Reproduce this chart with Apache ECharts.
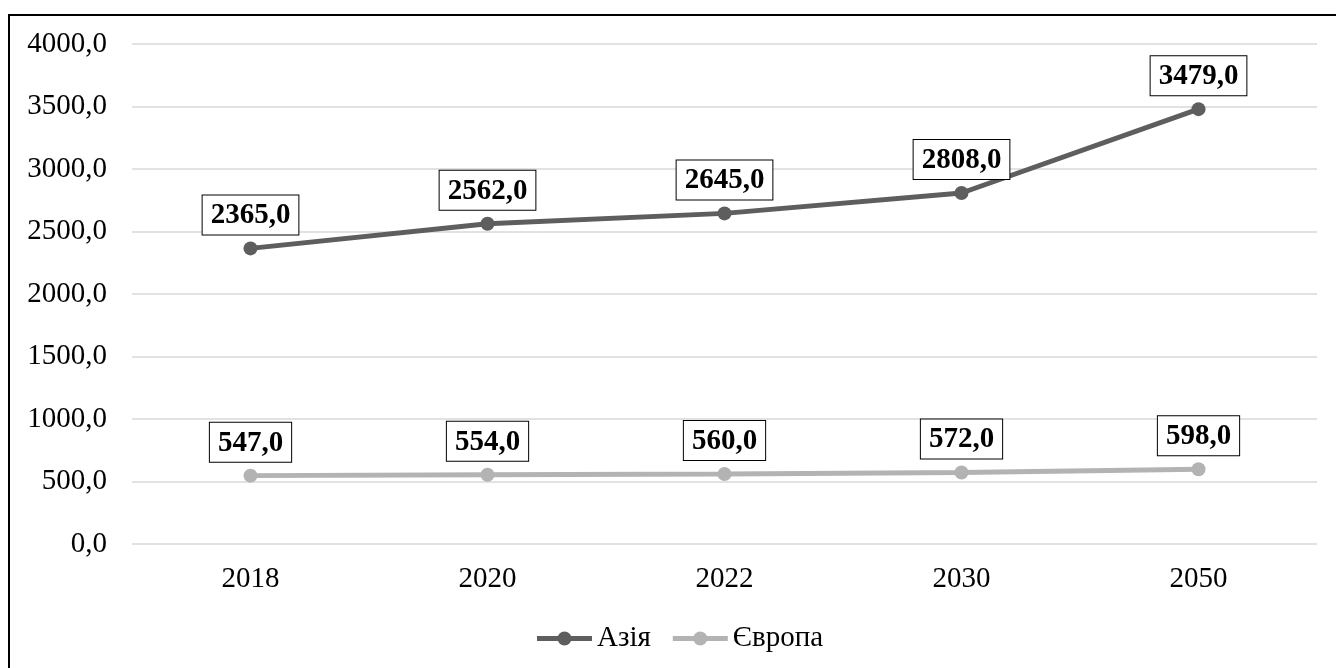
<!DOCTYPE html>
<html>
<head>
<meta charset="utf-8">
<script src="https://cdn.jsdelivr.net/npm/echarts@6/dist/echarts.min.js"></script>
<style>
html,body{margin:0;padding:0;background:#fff;}
#chart{width:1336px;height:668px;}
</style>
</head>
<body>
<div id="chart"></div>
<script>
const categories = ['2018', '2020', '2022', '2030', '2050'];
const asiaValues = [2365, 2562, 2645, 2808, 3479];
const europeValues = [547, 554, 560, 572, 598];
const seriesNames = ['Азія', 'Європа'];

const FONT = '"Liberation Serif", "Times New Roman", serif';
const fmt = v => Number(v).toFixed(1).replace('.', ',');
const legendIcon = 'path://M0,4.5 L55,4.5 L55,9.5 L0,9.5 Z M20.5,7 A7,7 0 1,1 34.5,7 A7,7 0 1,1 20.5,7 Z';

const labelStyle = {
  show: true,
  position: 'top',
  distance: 7,
  fontFamily: FONT,
  fontSize: 29,
  fontWeight: 'bold',
  color: '#000',
  backgroundColor: '#fff',
  borderColor: '#000',
  borderWidth: 1,
  padding: [5, 8, 3, 8],
  lineHeight: 31,
  formatter: p => fmt(p.value)
};

const chart = echarts.init(document.getElementById('chart'), null, {renderer: 'canvas'});
chart.setOption({
  animation: false,
  backgroundColor: '#fff',
  graphic: [{
    type: 'rect',
    shape: {x: 9, y: 15, width: 1400, height: 700},
    style: {fill: 'none', stroke: '#000', lineWidth: 2},
    z: 100
  }],
  grid: {left: 132, right: 19, top: 44, bottom: 124},
  legend: {
    data: seriesNames.map(n => ({name: n, icon: legendIcon})),
    bottom: 10,
    left: 532,
    itemWidth: 55,
    itemHeight: 14,
    itemGap: 22,
    textStyle: {fontFamily: FONT, fontSize: 29, color: '#000'}
  },
  xAxis: {
    type: 'category',
    data: categories,
    boundaryGap: true,
    axisLine: {show: false},
    axisTick: {show: false},
    axisLabel: {fontFamily: FONT, fontSize: 29, color: '#000', margin: 21}
  },
  yAxis: {
    type: 'value',
    min: 0,
    max: 4000,
    interval: 500,
    axisLine: {show: false},
    axisTick: {show: false},
    axisLabel: {fontFamily: FONT, fontSize: 29, color: '#000', margin: 25, formatter: fmt},
    splitLine: {lineStyle: {color: '#d9d9d9', width: 1.5}}
  },
  series: [
    {
      name: seriesNames[0],
      type: 'line',
      data: asiaValues,
      symbol: 'circle',
      symbolSize: 14,
      lineStyle: {color: '#5e5e5e', width: 5},
      itemStyle: {color: '#5e5e5e'},
      label: labelStyle
    },
    {
      name: seriesNames[1],
      type: 'line',
      data: europeValues,
      symbol: 'circle',
      symbolSize: 14,
      lineStyle: {color: '#b3b3b3', width: 5},
      itemStyle: {color: '#b3b3b3'},
      label: labelStyle
    }
  ]
});
</script>
</body>
</html>
